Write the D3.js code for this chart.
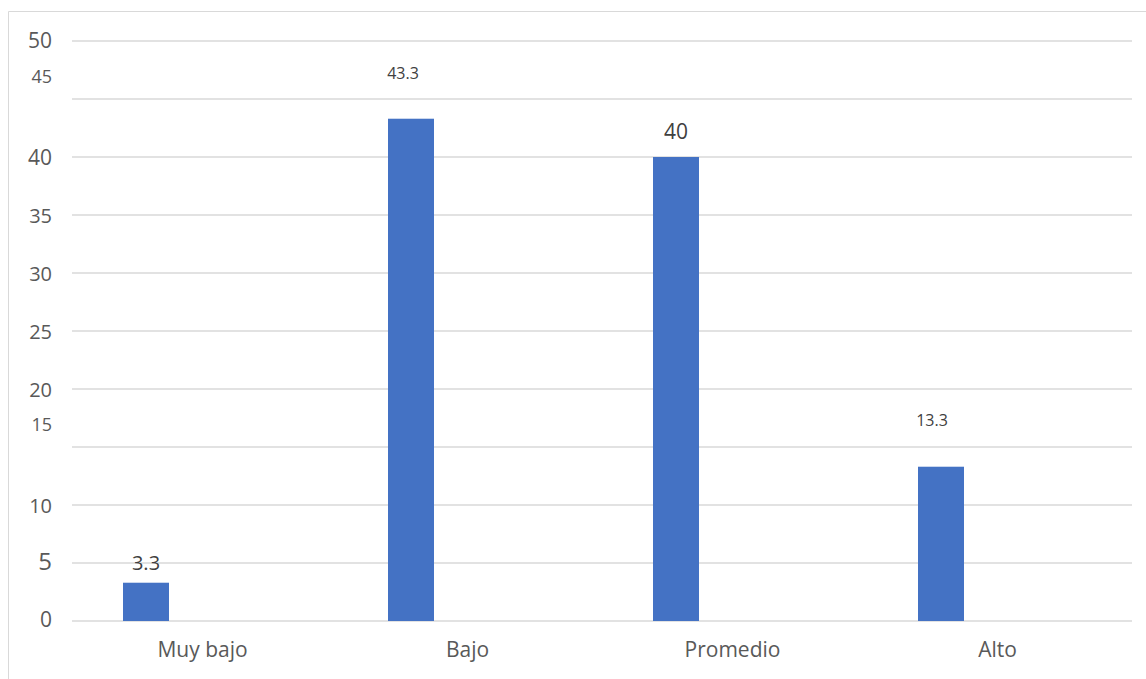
<!DOCTYPE html>
<html><head><meta charset="utf-8">
<script src="https://cdn.jsdelivr.net/npm/d3@7"></script>
<style>
html,body{margin:0;padding:0;background:#fff;}
svg{display:block;font-family:"Open Sans","Noto Sans",sans-serif;}
</style></head>
<body><svg id="c" width="1146" height="679"></svg>
<script>
const categories = ["Muy bajo","Bajo","Promedio","Alto"];
const values = [3.3, 43.3, 40, 13.3];
const valueLabels = ["3.3","43.3","40","13.3"];
const yTicks = [0,5,10,15,20,25,30,35,40,45,50];

// styling (positions/sizes) kept separate from data
const labelStyle = [
  {size:20, dx:0, dy:-20},
  {size:16, dx:-8, dy:-46},
  {size:21, dx:0, dy:-26},
  {size:16, dx:-9, dy:-47}
];
const tickStyle = {
  0:{size:21, dy:-2}, 5:{size:24, dy:-3}, 10:{size:20, dy:0}, 15:{size:18, dy:-23},
  20:{size:20, dy:0}, 25:{size:20, dy:0}, 30:{size:20, dy:0}, 35:{size:20, dy:0},
  40:{size:21, dy:0}, 45:{size:18, dy:-23}, 50:{size:21, dy:-1}
};

const svg = d3.select("#c");
const mLeft = 72, mRight = 1132, mTop = 41, mBottom = 621;
const x = d3.scaleBand().domain(categories).range([mLeft, mRight]).padding(0);
const y = d3.scaleLinear().domain([0,50]).range([mBottom, mTop]);

// outer frame
svg.append("path").attr("d", `M8.5,679 V11.5 H1146`).attr("fill","none").attr("stroke","#d9d9d9").attr("stroke-width",1);

// gridlines
svg.append("g").selectAll("line").data(yTicks).join("line")
  .attr("x1", mLeft).attr("x2", mRight)
  .attr("y1", d => y(d)).attr("y2", d => y(d))
  .attr("stroke", "#d9d9d9").attr("stroke-width", 1.5);

// y tick labels
svg.append("g").selectAll("text").data(yTicks).join("text")
  .attr("x", 52).attr("y", d => y(d) + tickStyle[d].dy)
  .attr("text-anchor","end").attr("dominant-baseline","central")
  .attr("font-size", d => tickStyle[d].size).attr("fill","#595959")
  .text(d => d);

// bars (first of two clustered slots within each category)
const barOffset = 51, barW = 46;
svg.append("g").selectAll("rect").data(values).join("rect")
  .attr("x", (d,i) => x(categories[i]) + barOffset)
  .attr("width", barW)
  .attr("y", d => y(d))
  .attr("height", d => y(0) - y(d))
  .attr("fill", "#4472c4");

// value labels
svg.append("g").selectAll("text").data(values).join("text")
  .attr("x", (d,i) => x(categories[i]) + barOffset + barW/2 + labelStyle[i].dx)
  .attr("y", (d,i) => y(d) + labelStyle[i].dy)
  .attr("text-anchor","middle").attr("dominant-baseline","central")
  .attr("font-size", (d,i) => labelStyle[i].size).attr("fill","#404040")
  .text((d,i) => valueLabels[i]);

// category labels
svg.append("g").selectAll("text").data(categories).join("text")
  .attr("x", d => x(d) + x.bandwidth()/2 - 2)
  .attr("y", 649)
  .attr("text-anchor","middle").attr("dominant-baseline","central")
  .attr("font-size", 21).attr("fill","#595959")
  .text(d => d);
</script>
</body></html>
